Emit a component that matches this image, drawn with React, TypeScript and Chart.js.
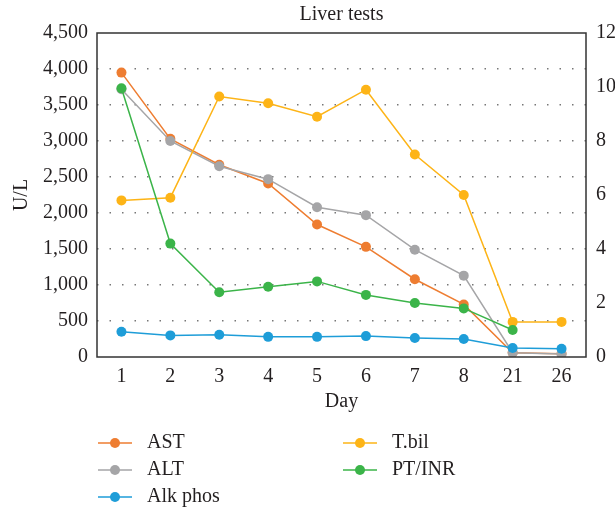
import { useEffect, useRef } from 'react';
import { Chart, registerables } from 'chart.js';

Chart.register(...registerables);

const days = ['1', '2', '3', '4', '5', '6', '7', '8', '21', '26'];
const ast = [3950, 3030, 2670, 2410, 1840, 1530, 1080, 730, 60, 45];
const alt = [3720, 3000, 2650, 2470, 2080, 1970, 1490, 1130, 60, 40];
const alkPhos = [350, 300, 310, 280, 280, 290, 265, 250, 125, 115];
const tBil = [5.8, 5.9, 9.65, 9.4, 8.9, 9.9, 7.5, 6.0, 1.3, 1.3];
const ptInr = [9.95, 4.2, 2.4, 2.6, 2.8, 2.3, 2.0, 1.8, 1.0, null];

const titleText = 'Liver tests';
const leftTitle = 'U/L';
const bottomTitle = 'Day';
const legendColumns = [['AST', 'ALT', 'Alk phos'], ['T.bil', 'PT/INR']];

const FONT = "'Liberation Serif', 'Times New Roman', serif";
const TEXT = '#231F20';

const colors: Record<string, string> = {
  AST: '#EE7D31',
  ALT: '#A5A5A7',
  'Alk phos': '#1E9DD8',
  'T.bil': '#FDB417',
  'PT/INR': '#3BB449',
};

const decorPlugin = {
  id: 'decor',
  afterDatasetsDraw(chart: any) {
    const { ctx, chartArea } = chart;
    ctx.save();
    ctx.strokeStyle = '#333333';
    ctx.lineWidth = 1.5;
    ctx.strokeRect(chartArea.left, chartArea.top, chartArea.right - chartArea.left, chartArea.bottom - chartArea.top);
    ctx.restore();
  },
  afterDraw(chart: any) {
    const { ctx, chartArea } = chart;
    ctx.save();
    ctx.fillStyle = TEXT;
    ctx.font = `20px ${FONT}`;
    ctx.textAlign = 'center';
    ctx.textBaseline = 'middle';
    ctx.fillText(titleText, (chartArea.left + chartArea.right) / 2, 15);

    // legend
    const colX = [98, 343];
    const rowY = [443, 470, 497];
    legendColumns.forEach((col, ci) => {
      col.forEach((label, ri) => {
        const c = colors[label];
        const x0 = colX[ci];
        const y = rowY[ri];
        ctx.strokeStyle = c;
        ctx.lineWidth = 1.5;
        ctx.beginPath();
        ctx.moveTo(x0, y);
        ctx.lineTo(x0 + 34, y);
        ctx.stroke();
        ctx.fillStyle = c;
        ctx.beginPath();
        ctx.arc(x0 + 17, y, 5, 0, Math.PI * 2);
        ctx.fill();
        ctx.fillStyle = TEXT;
        ctx.textAlign = 'left';
        ctx.textBaseline = 'middle';
        ctx.fillText(label, x0 + 49, y);
      });
    });
    ctx.restore();
  },
};

export default function App() {
  const ref = useRef<HTMLCanvasElement>(null);
  useEffect(() => {
    document.body.style.margin = '0';
    const mk = (label: string, data: (number | null)[], axis: string, order: number) => ({
      label,
      data,
      yAxisID: axis,
      order,
      borderColor: colors[label],
      backgroundColor: colors[label],
      pointBackgroundColor: colors[label],
      pointBorderWidth: 0,
      pointRadius: 5,
      borderWidth: 1.5,
      tension: 0,
      spanGaps: false,
    });
    const chart = new Chart(ref.current!, {
      type: 'line',
      data: {
        labels: days,
        datasets: [
          mk('AST', ast, 'y', 4),
          mk('ALT', alt, 'y', 3),
          mk('Alk phos', alkPhos, 'y', 1),
          mk('T.bil', tBil, 'y1', 2),
          mk('PT/INR', ptInr, 'y1', 0),
        ],
      },
      options: {
        animation: false,
        responsive: true,
        maintainAspectRatio: false,
        layout: { padding: { top: 33, left: 6, right: 0, bottom: 93 } },
        plugins: {
          legend: { display: false },
          title: { display: false },
          tooltip: { enabled: false },
        },
        scales: {
          x: {
            offset: true,
            grid: { display: false, drawTicks: false },
            border: { display: false },
            ticks: { color: TEXT, font: { family: FONT, size: 20 }, padding: 8, maxRotation: 0 },
            title: { display: true, text: bottomTitle, color: TEXT, font: { family: FONT, size: 20 }, padding: { top: 4, bottom: 4 } },
            afterFit: (s: any) => { s.height = 61; },
          },
          y: {
            position: 'left',
            min: 0,
            max: 4500,
            ticks: {
              stepSize: 500,
              color: TEXT,
              font: { family: FONT, size: 20 },
              padding: 9,
              callback: (v: any) => Number(v).toLocaleString('en-US'),
            },
            grid: {
              drawTicks: false,
              lineWidth: 1.5,
              color: (c: any) => (c.tick && (c.tick.value === 0 || c.tick.value === 4500) ? 'rgba(0,0,0,0)' : '#777777'),
            },
            border: { display: false, dash: [1.5, 11] },
            title: { display: true, text: leftTitle, color: TEXT, font: { family: FONT, size: 20 }, padding: { top: 4, bottom: 4 } },
            afterFit: (s: any) => { s.width = 91; },
          },
          y1: {
            position: 'right',
            min: 0,
            max: 12,
            ticks: { stepSize: 2, color: TEXT, font: { family: FONT, size: 20 }, padding: 10 },
            grid: { display: false, drawTicks: false },
            border: { display: false },
            afterFit: (s: any) => { s.width = 29; },
          },
        },
      },
      plugins: [decorPlugin],
    });
    return () => chart.destroy();
  }, []);
  return (
    <div style={{ position: 'relative', width: 615, height: 511 }}>
      <canvas ref={ref} />
    </div>
  );
}
